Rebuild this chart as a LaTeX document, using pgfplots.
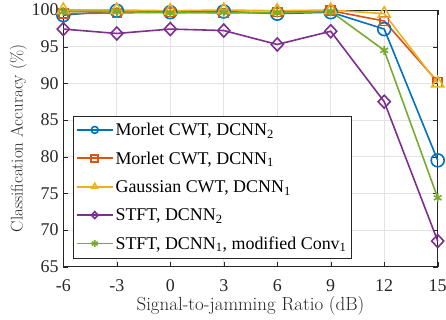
\documentclass[border=0pt]{standalone}
\usepackage{fontspec}
\setmainfont{Liberation Serif}
\newfontfamily\lmfont{Latin Modern Roman}
\usepackage{pgfplots}
\pgfplotsset{compat=1.18}
\definecolor{mblue}{rgb}{0,0.447,0.741}
\definecolor{mred}{rgb}{0.85,0.325,0.098}
\definecolor{myellow}{rgb}{0.929,0.694,0.125}
\definecolor{mpurple}{rgb}{0.494,0.184,0.556}
\definecolor{mgreen}{rgb}{0.466,0.674,0.188}
\definecolor{axgray}{rgb}{0.15,0.15,0.15}
\begin{document}
\begin{tikzpicture}
\useasboundingbox (-63.3bp,-53.3bp) rectangle (382.7bp,266.7bp);
\begin{axis}[
  at={(0,0)}, anchor=south west,
  scale only axis, width=374.4bp, height=256.7bp,
  xmin=-6, xmax=15, ymin=65, ymax=100,
  xtick={-6,-3,0,3,6,9,12,15},
  xticklabels={-6,-3,0,3,6,9,12,15},
  ytick={65,70,75,80,85,90,95,100},
  grid=major, major grid style={gray!22, line width=0.6bp},
  tick align=inside, axis line style={axgray, line width=0.6bp},
  major tick length=5bp, tick style={axgray},
  ticklabel style={text=axgray, font=\fontsize{18}{20}\selectfont},
  /pgf/number format/assume math mode=true,
  xticklabel style={anchor=base, inner sep=0pt, yshift=-25bp},
  yticklabel style={anchor=east, inner sep=0pt, xshift=-4.5bp},
  xlabel={Signal-to-jamming Ratio (dB)},
  ylabel={Classification Accuracy (\%)},
  xlabel style={text=axgray, font=\lmfont\fontsize{19}{21}\selectfont,
    at={(axis description cs:0.5,-0.1706)}, anchor=base, inner sep=0pt},
  ylabel style={text=axgray, font=\lmfont\fontsize{17}{19}\selectfont,
    at={(axis description cs:-0.1202,0.5)}, anchor=center, inner sep=0pt},
  clip=false,
  every axis plot/.append style={line width=1.6bp},
  legend image code/.code={
    \draw[#1, mark=none] (0bp,1bp) -- (36bp,1bp);
    \draw[#1, mark size=3.5pt] plot coordinates {(18bp,1bp)};
  },
  legend style={at={(0.025,0.030)}, anchor=south west, draw=axgray, line width=0.6bp,
    font=\fontsize{18}{20}\selectfont, inner xsep=3bp, inner ysep=0bp, row sep=0bp,
    nodes={inner xsep=2bp, inner ysep=0bp, text height=19bp, text depth=9.4bp}},
  legend cell align=left,
]
\addplot[color=mblue, mark=o, mark size=6.5pt] coordinates {
(-6,99.3) (-3,99.9) (0,99.7) (3,99.8) (6,99.5) (9,99.7) (12,97.4) (15,79.5)};
\addlegendentry{Morlet CWT, DCNN\textsubscript{2}}
\addplot[color=mred, mark=square, mark size=4.5pt] coordinates {
(-6,99.5) (-3,99.6) (0,99.7) (3,99.6) (6,99.7) (9,99.9) (12,98.5) (15,90.2)};
\addlegendentry{Morlet CWT, DCNN\textsubscript{1}}
\addplot[color=myellow, mark=triangle, mark size=7pt] coordinates {
(-6,100) (-3,100) (0,99.9) (3,100) (6,99.9) (9,100) (12,99.5) (15,90)};
\addlegendentry{Gaussian CWT, DCNN\textsubscript{1}}
\addplot[color=mpurple, mark=diamond, mark size=6.5pt, mark options={xscale=1.25}] coordinates {
(-6,97.4) (-3,96.8) (0,97.4) (3,97.2) (6,95.3) (9,97.1) (12,87.5) (15,68.5)};
\addlegendentry{STFT, DCNN\textsubscript{2}}
\addplot[color=mgreen, mark=asterisk, mark size=4.5pt] coordinates {
(-6,99.8) (-3,99.8) (0,99.6) (3,99.7) (6,99.6) (9,99.8) (12,94.5) (15,74.4)};
\addlegendentry{STFT, DCNN\textsubscript{1}, modified Conv\textsubscript{1}}
\end{axis}
\end{tikzpicture}
\end{document}
